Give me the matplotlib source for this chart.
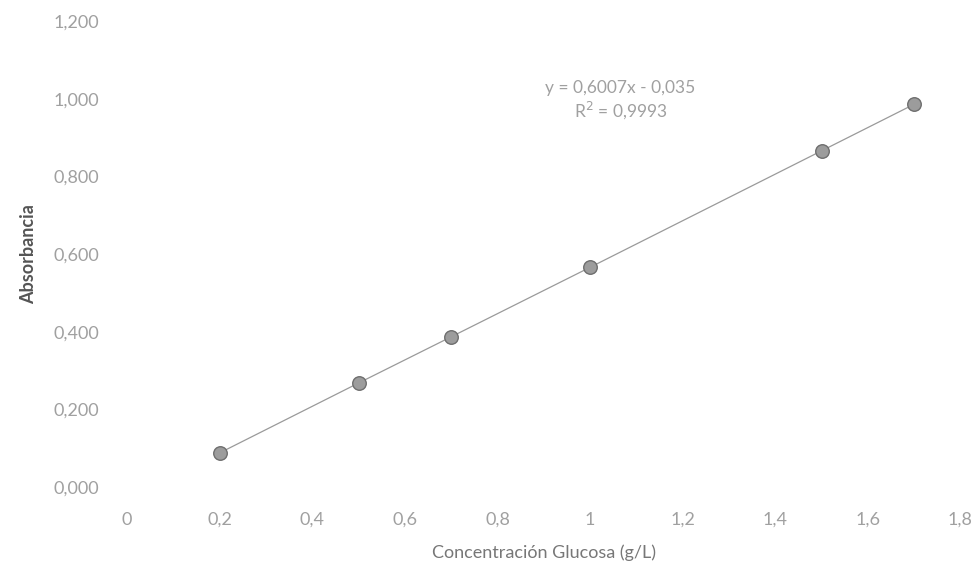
import matplotlib.pyplot as plt
import numpy as np

plt.rcParams['font.family'] = ['Lato', 'DejaVu Sans']

# datos de la curva de calibracion
concentracion = [0.2, 0.5, 0.7, 1.0, 1.5, 1.7]
absorbancia = [0.088, 0.268, 0.387, 0.566, 0.866, 0.986]
ticks_x = [0, 0.2, 0.4, 0.6, 0.8, 1.0, 1.2, 1.4, 1.6, 1.8]
ticks_y = [0.0, 0.2, 0.4, 0.6, 0.8, 1.0, 1.2]
ecuacion = 'y = 0,6007x - 0,035'
r2 = 'R$^2$ = 0,9993'

gris = '#a0a0a0'

fig = plt.figure(figsize=(9.78, 5.73), dpi=100)
ax = fig.add_axes([0.13, 0.15, 0.852, 0.813])

ax.plot(concentracion, absorbancia, color='#9a9a9a', lw=0.9, zorder=2)
ax.scatter(concentracion, absorbancia, s=95, color='#9c9c9c', edgecolor='#6e6e6e',
           linewidth=1.0, zorder=3)

ax.set_xlim(0, 1.8)
ax.set_ylim(0, 1.2)
ax.set_xticks(ticks_x)
ax.set_yticks(ticks_y)
ax.set_xticklabels([('%g' % t).replace('.', ',') for t in ticks_x])
ax.set_yticklabels([('%.3f' % t).replace('.', ',') for t in ticks_y])
ax.tick_params(length=0, labelsize=13, colors=gris, pad=20)
ax.tick_params(axis='x', pad=18)

for s in ax.spines.values():
    s.set_visible(False)

ax.set_xlabel('Concentración Glucosa (g/L)', fontsize=13, color='#777777', labelpad=12)
ax.set_ylabel('Absorbancia', fontsize=13, fontweight='bold', color='#555555', labelpad=12)

ax.text(0.592, 0.856, ecuacion, transform=ax.transAxes, ha='center', va='center',
        fontsize=12.5, color=gris)
ax.text(0.592, 0.81, r2, transform=ax.transAxes, ha='center', va='center',
        fontsize=12.5, color=gris)

fig.savefig('out.png', dpi=100, facecolor='white')
